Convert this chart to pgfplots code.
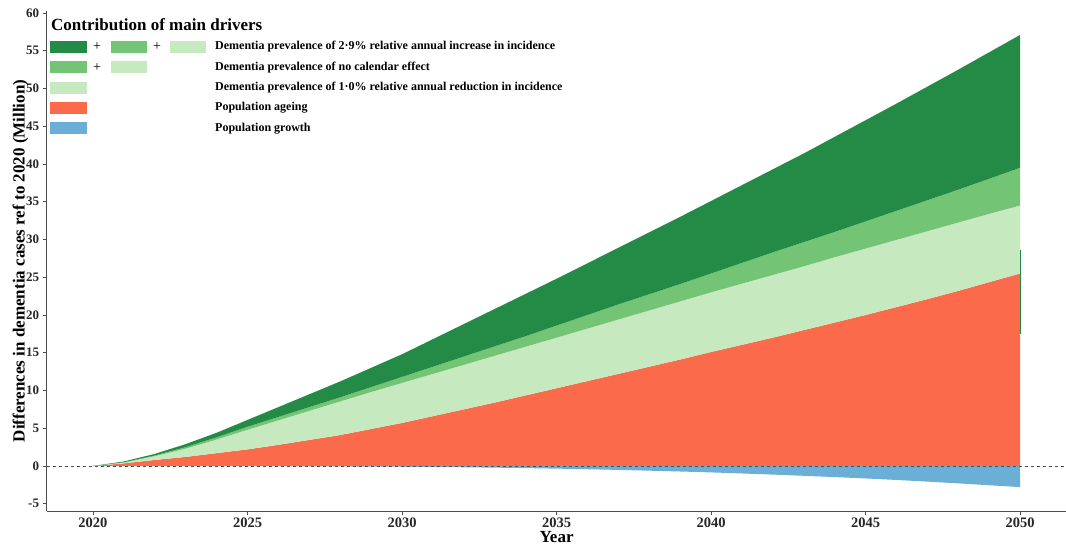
\documentclass[border=0pt]{standalone}
\usepackage{fontspec}
\setmainfont{Liberation Serif}
\usepackage{pgfplots}
\usepackage{pgfplotstable}
\pgfplotsset{compat=1.18}
\usepgfplotslibrary{fillbetween}
\definecolor{dg}{HTML}{238B45}
\definecolor{mg}{HTML}{74C476}
\definecolor{lg}{HTML}{C7E9C0}
\definecolor{rd}{HTML}{FB6A4A}
\definecolor{bl}{HTML}{6BAED6}
\definecolor{axg}{HTML}{4D4D4D}
\pgfplotstableread{
year blue red b2 b1 top
2020 0 0 0 0 0
2021 0 0.35 0.45 0.5 0.6
2022 0 0.8 1.3 1.4 1.6
2023 0 1.2 2.3 2.5 2.9
2024 -0.01 1.7 3.5 3.8 4.4
2025 -0.02 2.2 4.8 5.2 6.1
2026 -0.03 2.8 6.05 6.5 7.8
2027 -0.04 3.45 7.3 7.8 9.5
2028 -0.06 4.1 8.55 9.1 11.2
2029 -0.08 4.9 9.8 10.45 13.0
2030 -0.1 5.7 11.0 11.8 14.8
2031 -0.13 6.6 12.2 13.15 16.8
2032 -0.17 7.5 13.4 14.5 18.8
2033 -0.22 8.4 14.6 15.85 20.8
2034 -0.28 9.35 15.8 17.2 22.8
2035 -0.35 10.3 17.0 18.6 24.8
2036 -0.43 11.25 18.2 20.0 26.85
2037 -0.52 12.2 19.4 21.4 28.9
2038 -0.62 13.15 20.6 22.75 30.95
2039 -0.73 14.1 21.8 24.1 33.0
2040 -0.85 15.1 23.0 25.5 35.1
2041 -0.99 16.05 24.15 26.9 37.2
2042 -1.14 17.0 25.3 28.3 39.3
2043 -1.3 18.0 26.45 29.65 41.4
2044 -1.47 19.0 27.65 31.0 43.6
2045 -1.65 20.0 28.8 32.4 45.8
2046 -1.85 21.05 29.95 33.8 48.0
2047 -2.07 22.1 31.1 35.2 50.25
2048 -2.3 23.2 32.25 36.6 52.5
2049 -2.55 24.35 33.4 38.05 54.8
2050 -2.8 25.5 34.5 39.5 57.1
}\data
\begin{document}
\begin{tikzpicture}
\begin{axis}[
  name=ax,
  scale only axis,
  width=1020pt, height=500.6pt,
  xmin=2018.5, xmax=2051.5, ymin=-6, ymax=60.3,
  axis x line*=bottom, axis y line*=left,
  axis line style={-, draw=axg, line width=0.9pt},
  tick style={draw=axg, line width=0.7pt},
  tick align=outside, major tick length=4pt,
  xtick={2020,2025,...,2050}, ytick={-5,0,...,60},
  /pgf/number format/assume math mode=true,
  x tick label style={/pgf/number format/1000 sep={}, font=\fontsize{14.5}{14.5}\selectfont\bfseries, text=black!85, inner sep=1pt, yshift=-1pt},
  y tick label style={font=\fontsize{13}{13}\selectfont\bfseries, text=black!85},
  xlabel={Year}, ylabel={Differences in dementia cases ref to 2020 (Million)},
  label style={font=\fontsize{17}{17}\selectfont\bfseries},
  xlabel style={inner sep=1pt, yshift=-2pt},
  ylabel style={yshift=-9pt},
]
\addplot[name path=zero, draw=none] coordinates {(2020,0) (2050,0)};
\addplot[name path=pblue, draw=none] table[x=year, y=blue] {\data};
\addplot[name path=pred, draw=none] table[x=year, y=red] {\data};
\addplot[name path=pb2, draw=none] table[x=year, y=b2] {\data};
\addplot[name path=pb1, draw=none] table[x=year, y=b1] {\data};
\addplot[name path=ptop, draw=none] table[x=year, y=top] {\data};
\addplot[fill=bl, draw=none] fill between[of=zero and pblue];
\addplot[fill=rd, draw=none] fill between[of=zero and pred];
\addplot[fill=lg, draw=none] fill between[of=pred and pb2];
\addplot[fill=mg, draw=none] fill between[of=pb2 and pb1];
\addplot[fill=dg, draw=none] fill between[of=pb1 and ptop];
\addplot[dg, line width=1pt] coordinates {(2050,17.5) (2050,28.6)};
\addplot[dashed, axg, line width=0.6pt] coordinates {(2018.5,0) (2051.5,0)};
\end{axis}
% legend (1pt = 1px of reference)
\node[anchor=west, font=\fontsize{17}{17}\selectfont\bfseries, inner sep=0pt] at (4.4pt,486.3pt) {Contribution of main drivers};
\fill[dg] (3.4pt,458.3pt) rectangle (40.4pt,470.3pt);
\node[font=\fontsize{14}{14}\selectfont] at (50.4pt,464.3pt) {+};
\fill[mg] (64.4pt,458.3pt) rectangle (100.4pt,470.3pt);
\node[font=\fontsize{14}{14}\selectfont] at (110.4pt,464.3pt) {+};
\fill[lg] (123.4pt,458.3pt) rectangle (159.4pt,470.3pt);
\node[anchor=west, inner sep=0pt, font=\fontsize{12}{12}\selectfont\bfseries] at (168.4pt,464.3pt) {Dementia prevalence of 2·9\% relative annual increase in incidence};
\fill[mg] (3.4pt,437.8pt) rectangle (40.4pt,449.8pt);
\node[font=\fontsize{14}{14}\selectfont] at (50.4pt,443.8pt) {+};
\fill[lg] (64.4pt,437.8pt) rectangle (100.4pt,449.8pt);
\node[anchor=west, inner sep=0pt, font=\fontsize{12}{12}\selectfont\bfseries] at (168.4pt,443.8pt) {Dementia prevalence of no calendar effect};
\fill[lg] (3.4pt,417.3pt) rectangle (40.4pt,429.3pt);
\node[anchor=west, inner sep=0pt, font=\fontsize{12}{12}\selectfont\bfseries] at (168.4pt,423.3pt) {Dementia prevalence of 1·0\% relative annual reduction in incidence};
\fill[rd] (3.4pt,397.3pt) rectangle (40.4pt,409.3pt);
\node[anchor=west, inner sep=0pt, font=\fontsize{12}{12}\selectfont\bfseries] at (168.4pt,403.3pt) {Population ageing};
\fill[bl] (3.4pt,376.8pt) rectangle (40.4pt,388.8pt);
\node[anchor=west, inner sep=0pt, font=\fontsize{12}{12}\selectfont\bfseries] at (168.4pt,382.8pt) {Population growth};
\pgfresetboundingbox
\path (-46.6pt,-36.5pt) rectangle (1019.4pt,511.3pt);
\end{tikzpicture}
\end{document}
